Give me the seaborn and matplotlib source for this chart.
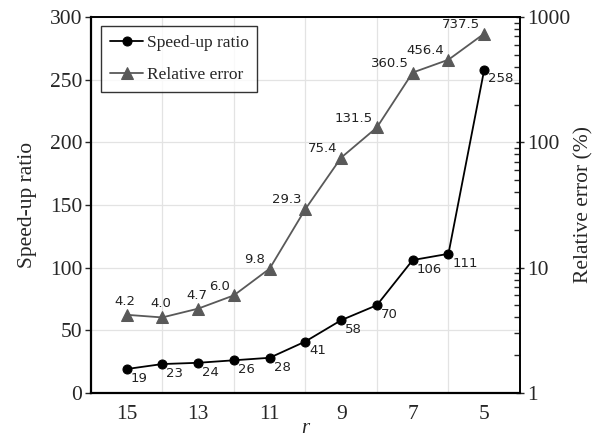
import matplotlib
matplotlib.use('Agg')
from matplotlib import pyplot as plt
from matplotlib.ticker import FixedLocator, NullFormatter, LogLocator
import seaborn as sns
import pandas as pd
import numpy as np

# --- 数据 ---
r_values = [15, 14, 13, 12, 11, 10, 9, 8, 7, 6, 5]
speedup = [19, 23, 24, 26, 28, 41, 58, 70, 106, 111, 258]
rel_error = [4.2, 4.0, 4.7, 6.0, 9.8, 29.3, 75.4, 131.5, 360.5, 456.4, 737.5]
err_labels = ['4.2', '4.0', '4.7', '6.0', '9.8', '29.3', '75.4', '131.5', '360.5', '456.4', '737.5']

df = pd.DataFrame({'r': r_values, 'speedup': speedup, 'error': rel_error})

sns.set_style('white')
plt.rcParams['font.family'] = ['Liberation Serif', 'DejaVu Serif']

fig = plt.figure(figsize=(5.97, 4.37), dpi=100)
ax = fig.add_axes([0.152, 0.101, 0.719, 0.860])
ax2 = ax.twinx()

grey = '#595959'
sns.lineplot(data=df, x='r', y='speedup', ax=ax, color='black', marker='o',
             markersize=6.5, markeredgecolor='black', linewidth=1.3, label='Speed-up ratio', legend=False)
sns.lineplot(data=df, x='r', y='error', ax=ax2, color=grey, marker='^',
             markersize=8.5, markeredgecolor=grey, linewidth=1.3, label='Relative error', legend=False)

# x axis
ax.set_xlim(16, 4)
ax.xaxis.set_major_locator(FixedLocator([15, 13, 11, 9, 7, 5]))
ax.xaxis.set_minor_locator(FixedLocator([14, 12, 10, 8, 6]))
ax.tick_params(axis='x', which='both', direction='in', length=4, width=1, labelsize=15.5, pad=9)
ax.xaxis.grid(True, which='minor', color='#e3e3e3', linewidth=0.9)
ax.set_xlabel('r', fontsize=15, style='italic', labelpad=-4)

# left y axis
ax.set_ylim(0, 300)
ax.set_yticks([0, 50, 100, 150, 200, 250, 300])
ax.tick_params(axis='y', direction='out', length=4, width=1, labelsize=15.5, pad=2)
ax.yaxis.grid(True, color='#e3e3e3', linewidth=0.9)
ax.set_ylabel('Speed-up ratio', fontsize=15.5, labelpad=9)
ax.set_axisbelow(True)

# right y axis (log)
ax2.set_yscale('log')
ax2.set_ylim(1, 1000)
ax2.yaxis.set_major_locator(FixedLocator([1, 10, 100, 1000]))
ax2.set_yticklabels(['1', '10', '100', '1000'])
ax2.yaxis.set_minor_locator(LogLocator(base=10, subs=np.arange(2, 10)))
ax2.yaxis.set_minor_formatter(NullFormatter())
ax2.tick_params(axis='y', which='major', direction='inout', length=6, width=1, labelsize=15.5, pad=2)
ax2.tick_params(axis='y', which='minor', direction='in', length=4, width=1)
ax2.set_ylabel('Relative error (%)', fontsize=15.5, labelpad=3)

for a in (ax, ax2):
    for s in a.spines.values():
        s.set_color('black')
        s.set_linewidth(1.2)
ax.spines['left'].set_linewidth(1.6)
ax.spines['bottom'].set_linewidth(1.6)

# 数据标签
for x, y in zip(r_values, speedup):
    ax.annotate(str(y), (x, y), xytext=(3, -2), textcoords='offset points',
                ha='left', va='top', fontsize=9.5, family='DejaVu Sans', color='#222222')
for i, (x, y, t) in enumerate(zip(r_values, rel_error, err_labels)):
    if i < 3:
        ax2.annotate(t, (x, y), xytext=(-1, 5), textcoords='offset points',
                     ha='center', va='bottom', fontsize=9.5, family='DejaVu Sans', color='#222222')
    else:
        ax2.annotate(t, (x, y), xytext=(-3, 2), textcoords='offset points',
                     ha='right', va='bottom', fontsize=9.5, family='DejaVu Sans', color='#222222')

# 图例
h1, l1 = ax.get_legend_handles_labels()
h2, l2 = ax2.get_legend_handles_labels()
leg = ax2.legend(h1 + h2, l1 + l2, loc='upper left', bbox_to_anchor=(0.025, 0.975),
                 fontsize=12.5, frameon=True, fancybox=False, edgecolor='black',
                 handlelength=1.9, handletextpad=0.2, borderpad=0.5, labelspacing=0.9,
                 borderaxespad=0.0)
leg.get_frame().set_linewidth(1.0)

fig.savefig('out.png', dpi=100)
